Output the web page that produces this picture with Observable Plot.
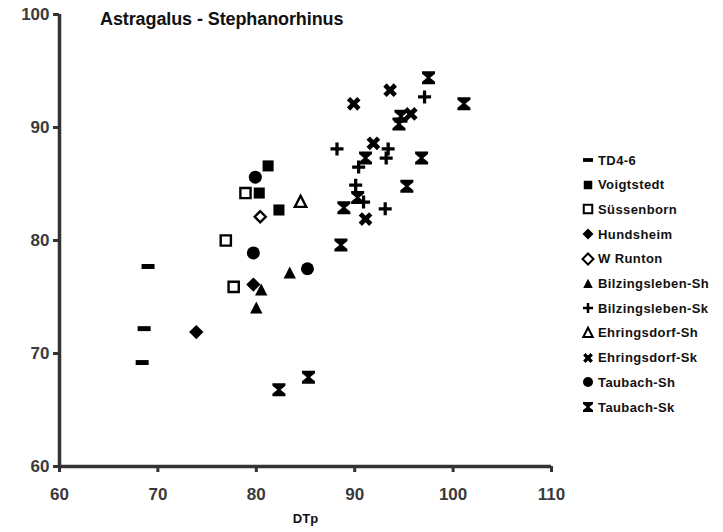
<!DOCTYPE html>
<html>
<head>
<meta charset="utf-8">
<script src="https://cdn.jsdelivr.net/npm/d3@7"></script>
<script src="https://cdn.jsdelivr.net/npm/@observablehq/plot@0.6"></script>
<style>
  html, body { margin: 0; padding: 0; background: #fff; }
  #wrap { position: relative; width: 723px; height: 532px; font-family: "Liberation Sans", Arial, sans-serif; }
  #title { position: absolute; left: 100px; top: 10px; font-size: 18px; font-weight: bold; color: #111; line-height: 18px; letter-spacing: -0.1px; white-space: nowrap; }
  #legend { position: absolute; left: 580px; top: 0; }
  .row { position: absolute; left: 0; height: 16px; display: flex; align-items: center; white-space: nowrap; font-size: 13px; font-weight: bold; color: #111; letter-spacing: 0.4px; }
  .row svg { margin-right: 2px; }
</style>
</head>
<body>
<div id="wrap"><div id="title">Astragalus - Stephanorhinus</div><div id="legend"></div></div>
<script>
// ---- data (DTp, second measurement) ----
const seriesNames = ["TD4-6","Voigtstedt","Süssenborn","Hundsheim","W Runton","Bilzingsleben-Sh","Bilzingsleben-Sk","Ehringsdorf-Sh","Ehringsdorf-Sk","Taubach-Sh","Taubach-Sk"];
const td46 = [[69.0,77.7],[68.6,72.2],[68.4,69.2]];
const voigtstedt = [[80.3,84.2],[82.3,82.7],[81.2,86.6]];
const sussenborn = [[78.9,84.2],[76.9,80.0],[77.7,75.9]];
const hundsheim = [[73.9,71.9],[79.7,76.1]];
const wRunton = [[80.4,82.1]];
const bilzSh = [[80.5,75.6],[80.0,74.0],[83.4,77.1]];
const bilzSk = [[97.1,92.7],[88.2,88.1],[93.4,88.1],[93.2,87.3],[90.4,86.5],[90.1,84.9],[90.9,83.4],[93.1,82.8]];
const ehrSh = [[84.5,83.4]];
const ehrSk = [[93.6,93.3],[89.9,92.1],[95.7,91.2],[91.9,88.6],[91.1,81.9]];
const taubSh = [[79.7,78.9],[85.2,77.5],[79.9,85.6]];
const taubSk = [[97.5,94.4],[101.1,92.1],[94.5,90.3],[94.7,91.0],[91.1,87.3],[96.8,87.3],[95.3,84.8],[90.3,83.8],[88.9,82.9],[88.6,79.6],[85.3,67.9],[82.3,66.8]];
const xTicks = [60,70,80,90,100,110];
const yTicks = [60,70,80,90,100];

// ---- custom symbols (size -> radius r) ----
const R = s => Math.sqrt(s / Math.PI);
function poly(ctx, pts) { ctx.moveTo(pts[0][0], pts[0][1]); for (let i = 1; i < pts.length; i++) ctx.lineTo(pts[i][0], pts[i][1]); ctx.closePath(); }
const symDash = { draw(ctx, s) { const r = R(s); poly(ctx, [[-r,-0.38*r],[r,-0.38*r],[r,0.38*r],[-r,0.38*r]]); } };
const symSquare = { draw(ctx, s) { const r = R(s)*0.85; poly(ctx, [[-r,-r],[r,-r],[r,r],[-r,r]]); } };
const symDiamond = { draw(ctx, s) { const r = R(s)*1.1; poly(ctx, [[0,-r],[r,0],[0,r],[-r,0]]); } };
const symTriangle = { draw(ctx, s) { const r = R(s); poly(ctx, [[0,-1.05*r],[0.95*r,0.8*r],[-0.95*r,0.8*r]]); } };
const symCircle = { draw(ctx, s) { const r = R(s); ctx.moveTo(r,0); ctx.arc(0,0,r,0,2*Math.PI); ctx.closePath(); } };
const symPlus = { draw(ctx, s) { const r = R(s), w = 0.25*r; poly(ctx, [[-w,-r],[w,-r],[w,-w],[r,-w],[r,w],[w,w],[w,r],[-w,r],[-w,w],[-r,w],[-r,-w],[-w,-w]]); } };
const symTimes = { draw(ctx, s) { const r = R(s)*1.05, w = 0.32*r, c = Math.SQRT1_2;
  const pts = [[-w,-r],[w,-r],[w,-w],[r,-w],[r,w],[w,w],[w,r],[-w,r],[-w,w],[-r,w],[-r,-w],[-w,-w]].map(([x,y]) => [(x-y)*c, (x+y)*c]);
  poly(ctx, pts); } };
const symBowtie = { draw(ctx, s) { const r = R(s);
  poly(ctx, [[-r,-r],[r,-r],[r,-0.62*r],[0.25*r,0],[r,0.62*r],[r,r],[-r,r],[-r,0.62*r],[-0.25*r,0],[-r,-0.62*r]]); } };

const series = [
  {name: seriesNames[0], pts: td46, sym: symDash, open: false, r: 6.5},
  {name: seriesNames[1], pts: voigtstedt, sym: symSquare, open: false, r: 6.5},
  {name: seriesNames[2], pts: sussenborn, sym: symSquare, open: true, r: 6},
  {name: seriesNames[3], pts: hundsheim, sym: symDiamond, open: false, r: 6.5},
  {name: seriesNames[4], pts: wRunton, sym: symDiamond, open: true, r: 5},
  {name: seriesNames[5], pts: bilzSh, sym: symTriangle, open: false, r: 6.5},
  {name: seriesNames[6], pts: bilzSk, sym: symPlus, open: false, r: 6.5},
  {name: seriesNames[7], pts: ehrSh, sym: symTriangle, open: true, r: 6},
  {name: seriesNames[8], pts: ehrSk, sym: symTimes, open: false, r: 7},
  {name: seriesNames[9], pts: taubSh, sym: symCircle, open: false, r: 6.5},
  {name: seriesNames[10], pts: taubSk, sym: symBowtie, open: false, r: 6.5}
];

const dotMarks = series.map(s => Plot.dot(s.pts, {
  x: d => d[0], y: d => d[1], symbol: s.sym, r: s.r,
  fill: s.open ? "#fff" : "#000", stroke: s.open ? "#000" : "none", strokeWidth: s.open ? 2.4 : 0
}));

const chart = Plot.plot({
  width: 723, height: 532,
  marginLeft: 59, marginRight: 172, marginTop: 14, marginBottom: 66,
  style: { fontFamily: "'Liberation Sans', Arial, sans-serif", fontSize: "17px", fontWeight: "bold", color: "#3a3a3a", background: "transparent" },
  x: { domain: [60, 110] },
  y: { domain: [60, 100] },
  marks: [
    Plot.axisY({ ticks: yTicks, tickSize: 6, tickPadding: 4, strokeWidth: 3, stroke: "#333", label: null }),
    Plot.axisX({ ticks: xTicks, tickSize: 6, tickPadding: 15, strokeWidth: 3, stroke: "#333", label: "DTp", labelAnchor: "center", labelArrow: "none", labelOffset: 56 }),
    Plot.ruleX([60], { stroke: "#333", strokeWidth: 3.5 }),
    Plot.ruleY([60], { stroke: "#333", strokeWidth: 3.5 }),
    ...dotMarks
  ]
});
d3.select(chart).selectAll("[aria-label='x-axis label'] text").style("font-size", "13px").style("fill", "#111");
document.getElementById("wrap").prepend(chart);

// legend
const leg = d3.select("#legend");
series.forEach((s, i) => {
  const row = leg.append("div").attr("class", "row").style("top", (152 + i * 24.7) + "px");
  const svg = row.append("svg").attr("width", 16).attr("height", 16).attr("viewBox", "-8 -8 16 16");
  const p = d3.path(); s.sym.draw(p, Math.PI * 25);
  svg.append("path").attr("d", p.toString())
    .attr("fill", s.open ? "#fff" : "#000").attr("stroke", s.open ? "#000" : "none").attr("stroke-width", s.open ? 2 : 0);
  row.append("span").text(s.name);
});
</script>
</body>
</html>
